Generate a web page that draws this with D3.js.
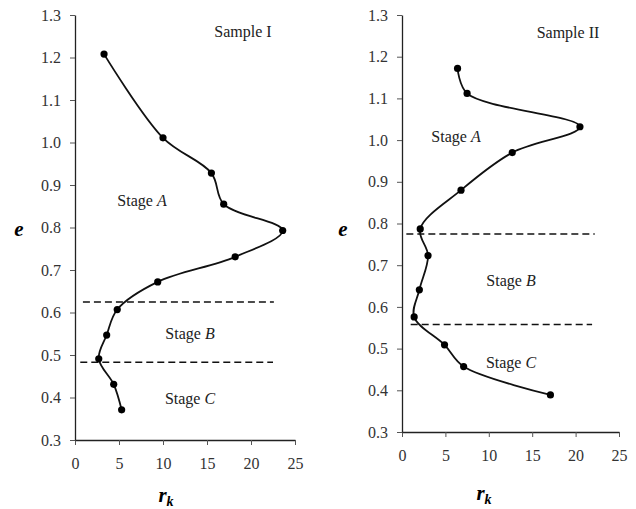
<!DOCTYPE html>
<html>
<head>
<meta charset="utf-8">
<script src="https://cdn.jsdelivr.net/npm/d3@7"></script>
<style>
  body { margin: 0; background: #fff; }
</style>
</head>
<body>
<svg id="chart" width="636" height="509"></svg>
<script>
// Sample I
const rk1 = [3.3, 10.0, 15.5, 16.9, 23.6, 18.2, 9.4, 4.8, 3.6, 2.7, 4.4, 5.3];
const e1  = [1.208, 1.011, 0.928, 0.855, 0.793, 0.731, 0.672, 0.607, 0.547, 0.491, 0.431, 0.371];
const bounds1 = [0.625, 0.483];

// Sample II
const rk2 = [6.4, 7.5, 20.5, 12.7, 6.8, 2.1, 3.0, 2.0, 1.4, 4.9, 7.1, 17.1];
const e2  = [1.172, 1.112, 1.032, 0.970, 0.880, 0.787, 0.723, 0.641, 0.576, 0.509, 0.457, 0.389];
const bounds2 = [0.775, 0.558];

const xTicks = [0, 5, 10, 15, 20, 25];
const yTicks = [0.3, 0.4, 0.5, 0.6, 0.7, 0.8, 0.9, 1.0, 1.1, 1.2, 1.3];

const serif = 'Liberation Serif, Times New Roman, serif';
const svg = d3.select('#chart').style('font-family', serif);

function styleAxis(a) {
  a.selectAll('.tick text')
    .style('font-family', serif).style('font-size', '16px').style('fill', '#333');
  a.selectAll('.tick line').style('stroke', '#555');
  a.select('.domain').style('stroke', '#222').style('stroke-width', 1.3);
}

function panel(opts) {
  const x = d3.scaleLinear().domain([0, 25]).range([opts.left, opts.right]);
  const y = d3.scaleLinear().domain([0.3, 1.3]).range([opts.bottom, opts.top]);
  const g = svg.append('g');

  g.append('g')
    .attr('transform', `translate(0,${opts.bottom})`)
    .call(d3.axisBottom(x).tickValues(xTicks).tickSize(5).tickPadding(13).tickSizeOuter(0))
    .call(styleAxis);

  g.append('g')
    .attr('transform', `translate(${opts.left},0)`)
    .call(d3.axisLeft(y).tickValues(yTicks).tickSize(5).tickPadding(9).tickSizeOuter(0)
      .tickFormat(d3.format('.1f')))
    .call(styleAxis);

  // stage boundaries
  opts.bounds.forEach((b, i) => {
    g.append('line')
      .attr('x1', x(opts.dashFrom[i])).attr('x2', x(opts.dashTo[i]))
      .attr('y1', y(b)).attr('y2', y(b))
      .attr('stroke', '#111').attr('stroke-width', 1.5)
      .attr('stroke-dasharray', '7,4');
  });

  const pts = opts.rk.map((r, i) => [r, opts.e[i]]);
  const line = d3.line()
    .x(d => x(d[0])).y(d => y(d[1]))
    .curve(d3.curveCatmullRom.alpha(0.5));

  g.append('path')
    .attr('d', line(pts))
    .attr('fill', 'none').attr('stroke', '#111').attr('stroke-width', 1.8);

  g.selectAll('circle.pt').data(pts).enter().append('circle')
    .attr('class', 'pt')
    .attr('cx', d => x(d[0])).attr('cy', d => y(d[1]))
    .attr('r', 3.6).attr('fill', '#000');

  // text labels
  g.append('text').attr('x', opts.sample[0]).attr('y', opts.sample[1])
    .attr('text-anchor', 'middle').attr('font-size', 16).attr('fill', '#222')
    .text(opts.sampleText);

  opts.stages.forEach(s => {
    const t = g.append('text').attr('x', s[0]).attr('y', s[1])
      .attr('text-anchor', 'middle').attr('font-size', 16).attr('fill', '#222');
    t.append('tspan').text('Stage ');
    t.append('tspan').attr('font-style', 'italic').text(s[2]);
  });

  g.append('text').attr('x', opts.eLabel[0]).attr('y', opts.eLabel[1])
    .attr('text-anchor', 'middle').attr('font-size', 21)
    .attr('font-weight', 'bold').attr('font-style', 'italic').text('e');

  const rl = g.append('text').attr('x', opts.rLabel[0]).attr('y', opts.rLabel[1])
    .attr('text-anchor', 'middle').attr('font-weight', 'bold').attr('font-style', 'italic');
  rl.append('tspan').attr('font-size', 21).text('r');
  rl.append('tspan').attr('font-size', 14).attr('dy', 4).text('k');
}

panel({
  left: 75, right: 295, top: 15, bottom: 440,
  rk: rk1, e: e1, bounds: bounds1,
  dashFrom: [0.9, 0.6], dashTo: [22.6, 22.5],
  sampleText: 'Sample I', sample: [243, 37],
  stages: [[142, 206, 'A'], [190, 339, 'B'], [190, 404, 'C']],
  eLabel: [19, 236], rLabel: [166, 502]
});

panel({
  left: 402, right: 619, top: 15, bottom: 432,
  rk: rk2, e: e2, bounds: bounds2,
  dashFrom: [0.5, 1.0], dashTo: [22.2, 21.9],
  sampleText: 'Sample II', sample: [568, 38],
  stages: [[456, 142, 'A'], [511, 286, 'B'], [511, 368, 'C']],
  eLabel: [343, 236], rLabel: [484, 500]
});
</script>
</body>
</html>
